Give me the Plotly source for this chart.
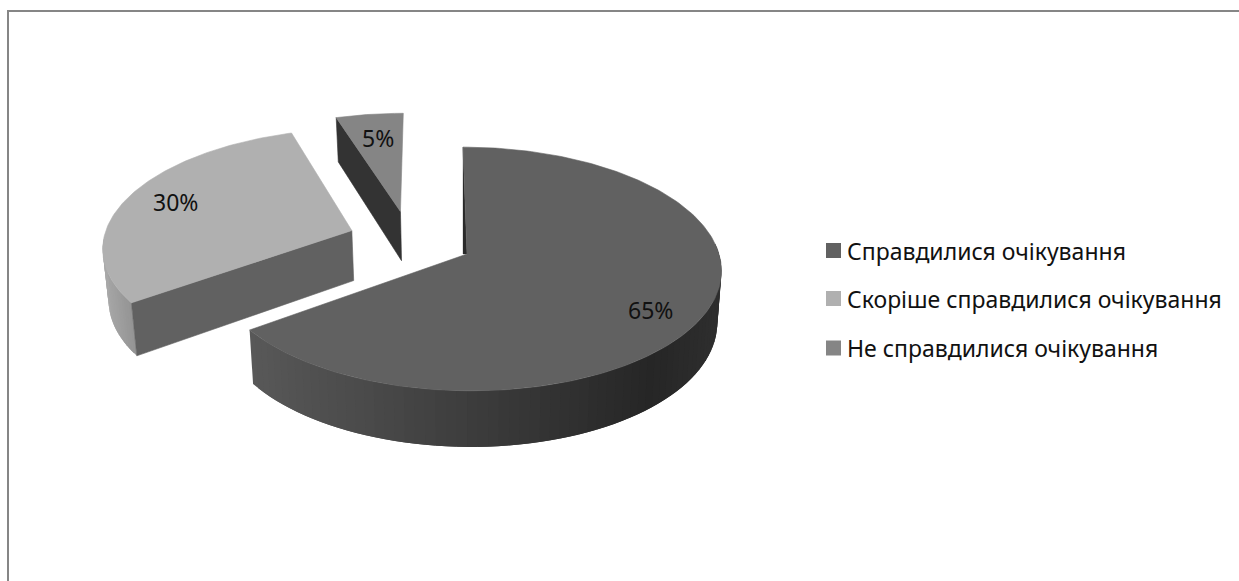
import math
import numpy as np
import plotly.graph_objects as go

# ---- data ----
categories = ["Справдилися очікування", "Скоріше справдилися очікування", "Не справдилися очікування"]
values = [65, 30, 5]
label_texts = ["65%", "30%", "5%"]
top_colors = ["#616161", "#b0b0b0", "#858585"]

W, H = 1239, 581
CX, CY = 467, 254
RX, RY = 252, 120
PERSP = 0.123
SHEAR = -4
DEPTH = 51
offsets = [(0.0, 0.0), (-0.465, 0.2), (-0.27, 0.37)]


def project(u, v):
    s = 1 / (1 + PERSP * v)
    return CX + RX * u * s + SHEAR * v, CY - RY * v * s


def lower(u, v):
    x, y = project(u, v)
    return x + 0.016 * (CX - x), y + DEPTH * (1 - 0.1 * v)


def arc(a0, a1, off, n=120):
    ts = np.linspace(a0, a1, n)
    return [(off[0] + math.sin(t), off[1] + math.cos(t)) for t in ts]


def grey(level):
    g = int(round(level))
    return f"rgb({g},{g},{g})"


def poly(fig, pts, color, line=0.6):
    fig.add_trace(go.Scatter(
        x=[p[0] for p in pts] + [pts[0][0]],
        y=[p[1] for p in pts] + [pts[0][1]],
        mode="lines", fill="toself", fillcolor=color,
        line=dict(color=color, width=line),
        hoverinfo="skip", showlegend=False))


fig = go.Figure()

total = sum(values)
angles = np.cumsum([0] + values) / total * 2 * math.pi
spans = [(angles[i], angles[i + 1]) for i in range(len(values))]
main_span, mid_span, small_span = spans


def wall(fig, a0, a1, off, shade, n):
    """Outer wall as overlapping bands, so no seams show between them."""
    pts = arc(a0, a1, off, n + 1)
    for i in range(n):
        band = pts[i:i + 3]
        quad = [project(*p) for p in band] + [lower(*p) for p in reversed(band)]
        poly(fig, quad, grey(shade(project(*band[0])[0])), 0)


# 30 % slice: outer wall, cut face, top
off = offsets[1]
wall(fig, mid_span[0], mid_span[0] + math.radians(32), off,
     lambda x: np.interp(x, [100, 137], [170, 145]), 24)
a = (off[0], off[1])
b = (off[0] + math.sin(mid_span[0]), off[1] + math.cos(mid_span[0]))
poly(fig, [project(*a), project(*b), lower(*b), lower(*a)], "#616161")
poly(fig, [project(*p) for p in [a] + arc(*mid_span, off)], top_colors[1])

# 5 % slice: cut face, top
off = offsets[2]
a = (off[0], off[1])
b = (off[0] + math.sin(small_span[0]), off[1] + math.cos(small_span[0]))
poly(fig, [project(*a), project(*b), lower(*b), lower(*a)], "#333333")
poly(fig, [project(*p) for p in [a] + arc(*small_span, off)], top_colors[2])

# 65 % slice: outer wall, thin inner face, top
off = offsets[0]
wall(fig, main_span[1], main_span[0] + math.radians(85), off,
     lambda x: np.interp(x, [251, 470, 650, 716], [88, 60, 38, 46]), 70)
p0 = project(0, 1)
apex = project(0, 0)
poly(fig, [p0, apex, (apex[0] - 4, apex[1])], "#2a2a2a", 0.3)
poly(fig, [project(*p) for p in [(0, 0)] + arc(*main_span, off, 200)], top_colors[0])

# frame
fig.add_trace(go.Scatter(x=[8, 8, W], y=[H, 11, 11], mode="lines",
                         line=dict(color="#868686", width=2),
                         hoverinfo="skip", showlegend=False))

# legend
leg_y = [250.5, 298.5, 348]
fig.add_trace(go.Scatter(x=[833.5] * 3, y=leg_y, mode="markers",
                         marker=dict(symbol="square", size=15, color=top_colors, line=dict(width=0)),
                         hoverinfo="skip", showlegend=False))
FONT = "'Noto Sans', sans-serif"
annotations = [dict(x=845, y=y, text=t, xref="x", yref="y", xanchor="left", yanchor="middle",
                    showarrow=False, font=dict(family=FONT, size=23, color="#111111"))
               for y, t in zip(leg_y, categories)]
label_xy = [(650, 310), (175, 202), (378, 138)]
annotations += [dict(x=x, y=y, text=t, xref="x", yref="y", showarrow=False,
                     font=dict(family=FONT, size=23, color="#111111"))
                for (x, y), t in zip(label_xy, label_texts)]

fig.update_layout(
    width=W, height=H, margin=dict(l=0, r=0, t=0, b=0),
    paper_bgcolor="white", plot_bgcolor="white", showlegend=False,
    xaxis=dict(range=[0, W], visible=False, fixedrange=True),
    yaxis=dict(range=[H, 0], visible=False, fixedrange=True),
    annotations=annotations,
)
fig.write_html("out.html", config=dict(displayModeBar=False),
               post_script="document.body.style.margin='0';document.body.style.overflow='hidden';")
